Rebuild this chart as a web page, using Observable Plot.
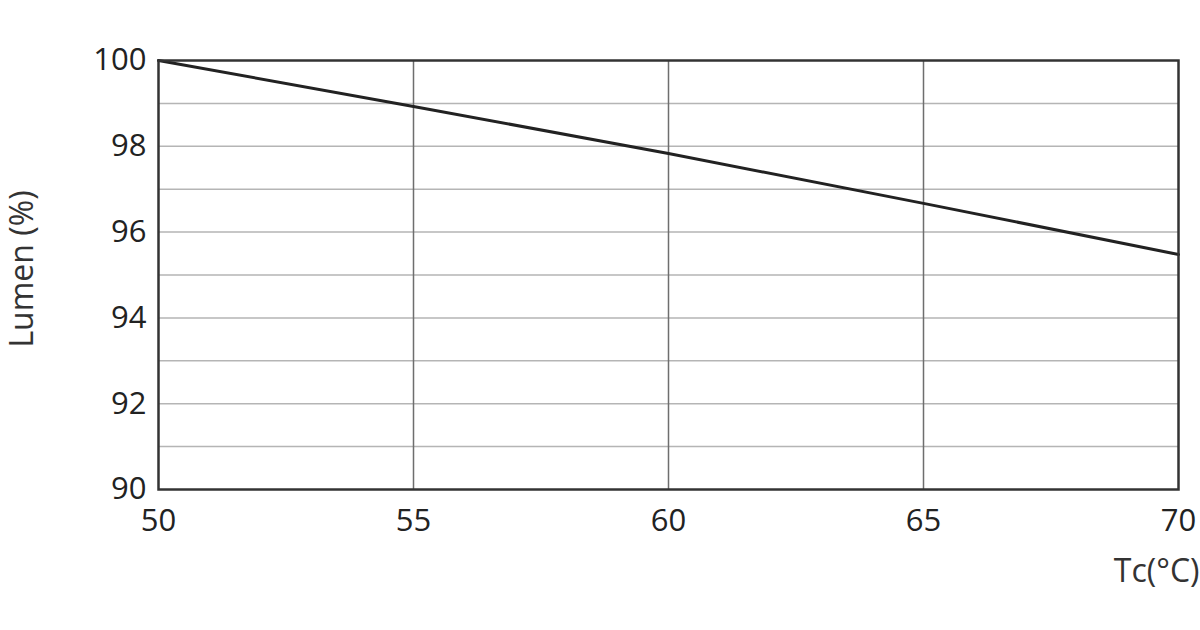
<!DOCTYPE html>
<html>
<head>
<meta charset="utf-8">
<script src="https://cdn.jsdelivr.net/npm/d3@7"></script>
<script src="https://cdn.jsdelivr.net/npm/@observablehq/plot@0.6"></script>
<style>
  html, body { margin: 0; padding: 0; background: #fff; }
  svg { display: block; }
</style>
</head>
<body>
<div id="chart"></div>
<script>
const tc = [50, 55, 60, 65, 70];
const lumen = [100, 98.93, 97.83, 96.67, 95.48];
const xTicks = [50, 55, 60, 65, 70];
const yTicks = [90, 92, 94, 96, 98, 100];
const yGrid = [91, 92, 93, 94, 95, 96, 97, 98, 99];
const xGrid = [55, 60, 65];
const xLabel = "Tc(°C)";
const yLabel = "Lumen (%)";

const data = tc.map((t, i) => ({t, l: lumen[i]}));

const chart = Plot.plot({
  width: 1200,
  height: 630,
  marginLeft: 158,
  marginRight: 22,
  marginTop: 60,
  marginBottom: 141,
  style: {fontFamily: "'Open Sans', sans-serif", color: "#222", background: "#fff"},
  x: {domain: [50, 70]},
  y: {domain: [90, 100]},
  marks: [
    Plot.ruleY(yGrid, {stroke: "#b5b5b5", strokeWidth: 1.5}),
    Plot.ruleX(xGrid, {stroke: "#6e6e6e", strokeWidth: 1.5}),
    Plot.axisX({ticks: xTicks, tickSize: 0, tickPadding: 19, fontSize: 31, label: null, fill: "#222"}),
    Plot.axisY({ticks: yTicks, tickSize: 0, tickPadding: 12, fontSize: 31, label: null, fill: "#222"}),
    Plot.text([yLabel], {frameAnchor: "left", dx: -136, dy: -6, rotate: -90, fontSize: 32, fill: "#333", textAnchor: "middle"}),
    Plot.text([xLabel], {frameAnchor: "bottom-right", dx: 21, dy: 92, fontSize: 32, fill: "#333", textAnchor: "end"}),
    Plot.line(data, {x: "t", y: "l", stroke: "#222", strokeWidth: 3}),
    Plot.frame({stroke: "#333", strokeWidth: 2.5})
  ]
});
document.getElementById("chart").appendChild(chart);
</script>
</body>
</html>
